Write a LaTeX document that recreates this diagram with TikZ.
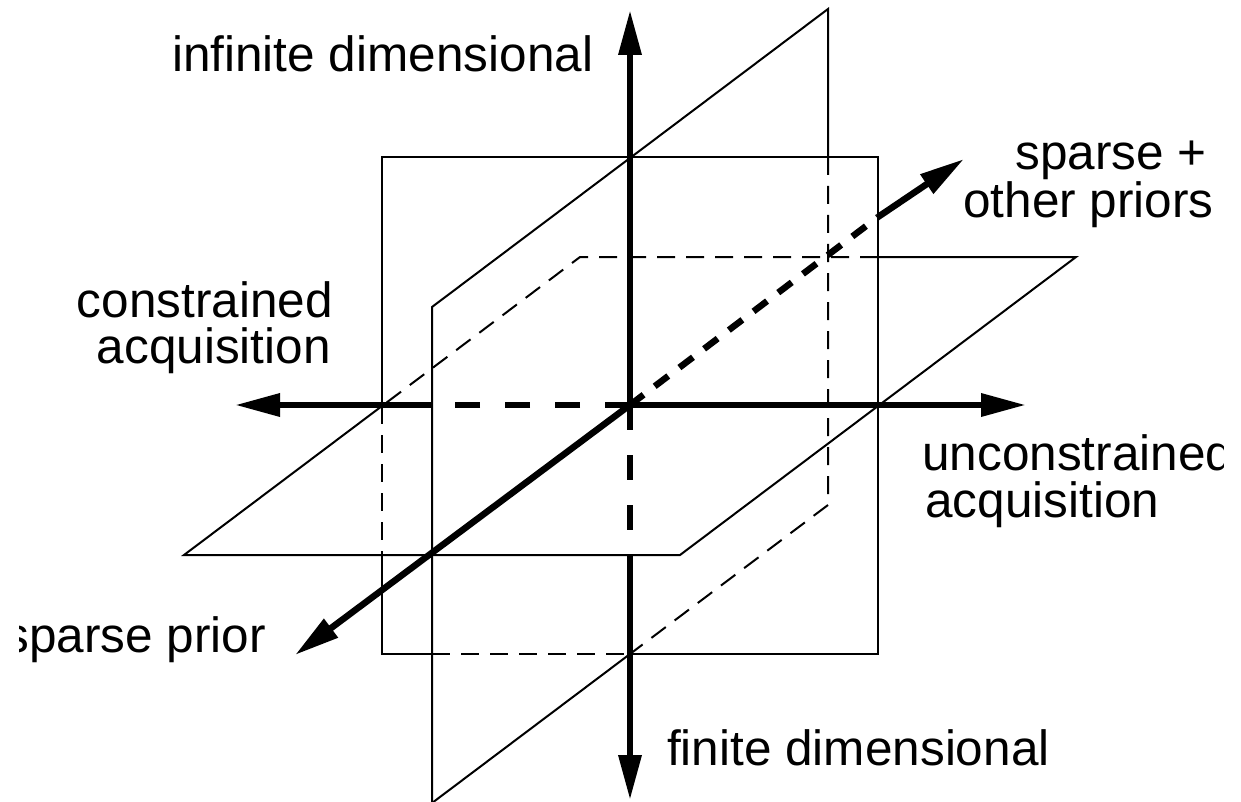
\documentclass[tikz,border=0pt]{standalone}
\usepackage{fontspec}
\setmainfont{Liberation Sans}
\usetikzlibrary{arrows.meta}
\begin{document}
\begin{tikzpicture}[x=1pt,y=-1pt,
  thinline/.style={line width=2pt},
  thindash/.style={line width=2pt, dash pattern=on 18pt off 11pt},
  axis/.style={line width=6.5pt},
  axisdash/.style={line width=6.5pt, dash pattern=on 25pt off 25pt},
  depthdash/.style={line width=6.5pt, dash pattern=on 17pt off 14pt},
  tip/.style={-{Triangle[length=45pt,width=22pt]}},
  lbl/.style={inner sep=0pt, font=\fontsize{49.5}{47}\selectfont}]
\useasboundingbox (0,0) rectangle (1241,802);
% centre
\coordinate (O) at (630,405);
% frontal rectangle
\coordinate (RTL) at (382,157);
\coordinate (RTR) at (878,157);
\coordinate (RBR) at (878,654);
\coordinate (RBL) at (382,654);
% horizontal plane
\coordinate (HFL) at (184,555);
\coordinate (HFR) at (680,555);
\coordinate (HBR) at (1076,257);
\coordinate (HBL) at (580,257);
% diagonal plane
\coordinate (DFB) at (432,803);
\coordinate (DFT) at (432,307);
\coordinate (DBT) at (828,9);
\coordinate (DBB) at (828,505);
% intersections
\coordinate (xHLR) at (382,406);
\coordinate (xRLF) at (382,555);
\coordinate (xDRT) at (828,157);
\coordinate (xHBR) at (878,257);
\coordinate (xDBV) at (630,654);
\coordinate (xDLB) at (432,654);
\coordinate (xVF) at (630,555);
\coordinate (xHD) at (432,405);
\coordinate (xDR) at (878,217);
% axis tips
\coordinate (tU) at (630,10);
\coordinate (tD) at (630,800);
\coordinate (tL) at (235,405);
\coordinate (tR) at (1026,405);
\coordinate (tF) at (295,655);
\coordinate (tB) at (964,159);

% thin solid edges
\draw[thinline] (xRLF) -- (RBL) -- (xDLB);
\draw[thinline] (xDBV) -- (RBR) -- (RTR) -- (RTL) -- (xHLR);
\draw[thinline] (xHLR) -- (HFL) -- (HFR) -- (HBR) -- (xHBR);
\draw[thinline] (DFB) -- (DFT) -- (DBT) -- (xDRT);
\draw[thinline] (xDBV) -- (DFB);
% thin hidden edges
\draw[thindash] (xHLR) -- (xRLF);
\draw[thindash] (xDLB) -- (xDBV);
\draw[thindash] (xHBR) -- (HBL) -- (xHLR);
\draw[thindash] (xDRT) -- (DBB) -- (xDBV);

% axes
\draw[axis,tip] (O) -- (tU);
\draw[axisdash] (O) -- (xVF);
\draw[axis,tip] (xVF) -- (tD);
\draw[axis,tip] (O) -- (tR);
\draw[axisdash] (O) -- (xHD);
\draw[axis,tip] (xHD) -- (tL);
\draw[axis,tip] (O) -- (tF);
\draw[depthdash] (O) -- (xDR);
\draw[axis,tip] (xDR) -- (tB);

% labels
\begin{scope}
\clip (19,0) rectangle (1223,802);
\node[lbl, anchor=base west] (infd) at (172,72) {infinite dimensional};
\node[lbl, anchor=base west] (find) at (667,765) {finite dimensional};
\node[lbl, anchor=base east] (spr) at (266,652) {sparse prior};
\node[lbl, anchor=base east] (spo1) at (1207,170) {sparse +};
\node[lbl, anchor=base east] (spo2) at (1214,218) {other priors};
\node[lbl, anchor=base east] (con1) at (333,317) {constrained};
\node[lbl, anchor=base east] (con2) at (331,363) {acquisition};
\node[lbl, anchor=base west] (unc1) at (922,470) {unconstrained};
\node[lbl, anchor=base west] (unc2) at (925,517) {acquisition};
\end{scope}
\end{tikzpicture}
\end{document}
